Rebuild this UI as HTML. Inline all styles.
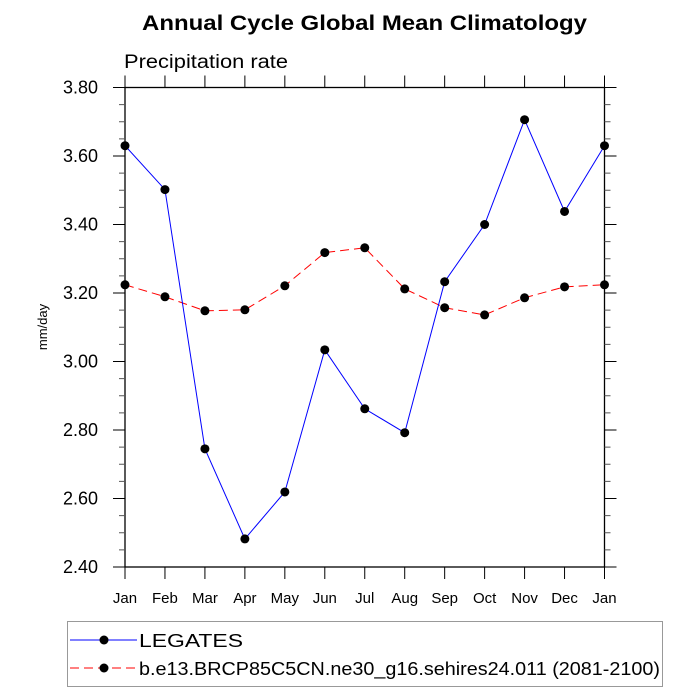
<!DOCTYPE html>
<html><head><meta charset="utf-8"><style>
body{margin:0;background:#fff}
svg{display:block;font-family:"Liberation Sans",sans-serif}
</style></head><body>
<svg width="700" height="700" viewBox="0 0 700 700">
<text x="142" y="30" font-size="21" font-weight="bold" textLength="445" lengthAdjust="spacingAndGlyphs">Annual Cycle Global Mean Climatology</text>
<text x="124" y="68" font-size="19" textLength="164" lengthAdjust="spacingAndGlyphs">Precipitation rate</text>
<text transform="translate(47,327) rotate(-90)" font-size="13" text-anchor="middle">mm/day</text>
<g id="axes"></g>
<g id="series"></g>
<g>
<rect x="67.5" y="621.5" width="595" height="65" fill="none" stroke="#999"/>
<g>
<line x1="70" y1="640" x2="137" y2="640" stroke="#00f" stroke-width="1"/>
<circle cx="104" cy="640" r="4.5" fill="#000"/>
<text x="139" y="647" font-size="18" textLength="104" lengthAdjust="spacingAndGlyphs">LEGATES</text></g>
<g>
<line x1="70" y1="668" x2="137" y2="668" stroke="#f00" stroke-width="1" stroke-dasharray="9,5"/>
<circle cx="104" cy="668" r="4.5" fill="#000"/>
<text x="139" y="675" font-size="18" textLength="521" lengthAdjust="spacingAndGlyphs">b.e13.BRCP85C5CN.ne30_g16.sehires24.011 (2081-2100)</text></g>
</g>
</svg>
<script>
const months=["Jan","Feb","Mar","Apr","May","Jun","Jul","Aug","Sep","Oct","Nov","Dec","Jan"];
const legates=[3.630,3.502,2.745,2.482,2.619,3.034,2.862,2.792,3.233,3.400,3.706,3.438,3.630];
const model=[3.224,3.189,3.148,3.151,3.221,3.318,3.332,3.212,3.157,3.136,3.186,3.218,3.224];
const yTicks=[2.40,2.60,2.80,3.00,3.20,3.40,3.60,3.80];
const NS="http://www.w3.org/2000/svg";
const L=125,R=604.5,T=87.5,B=567,ymin=2.4,ymax=3.8;
const xs=i=>L+(R-L)*i/(months.length-1);
const ys=v=>B-(B-T)*(v-ymin)/(ymax-ymin);
function mk(p,tag,a){const e=document.createElementNS(NS,tag);for(const k in a)e.setAttribute(k,a[k]);p.appendChild(e);return e;}
const ax=document.getElementById('axes');
const frame=mk(ax,'rect',{x:L,y:T,width:R-L,height:B-T,fill:'none',stroke:'#000','stroke-width':1.3});


months.forEach((m,i)=>{const x=xs(i);
mk(ax,'line',{x1:x,y1:B,x2:x,y2:B+12,stroke:'#000'});
mk(ax,'line',{x1:x,y1:T,x2:x,y2:T-12,stroke:'#000'});
const t=mk(ax,'text',{x:x,y:B+36,'font-size':15,'text-anchor':'middle'});t.textContent=m;


});
for(let v=ymin;v<=ymax+1e-9;v+=0.05){const y=ys(v);const major=Math.abs(v*5-Math.round(v*5))<1e-6;const len=major?12:6;
mk(ax,'line',{x1:L-len,y1:y,x2:L,y2:y,stroke:major?'#000':'#555'});
mk(ax,'line',{x1:R,y1:y,x2:R+len,y2:y,stroke:major?'#000':'#555'});}
yTicks.forEach(v=>{const t=mk(ax,'text',{x:L-27,y:ys(v)+6,'font-size':18,'text-anchor':'end'});t.textContent=v.toFixed(2);


});
const sg=document.getElementById('series');
function draw(vals,color,dash,name){const g=mk(sg,'g',{});


const a={points:vals.map((v,i)=>xs(i)+','+ys(v)).join(' '),fill:'none',stroke:color,'stroke-width':1};
if(dash)a['stroke-dasharray']=dash;mk(g,'polyline',a);
vals.forEach((v,i)=>{const c=mk(g,'circle',{cx:xs(i),cy:ys(v),r:4.5,fill:'#000'});


});}
draw(model,'#f00','9,5','model-series');
draw(legates,'#00f',null,'legates-series');
</script>
</body></html>
